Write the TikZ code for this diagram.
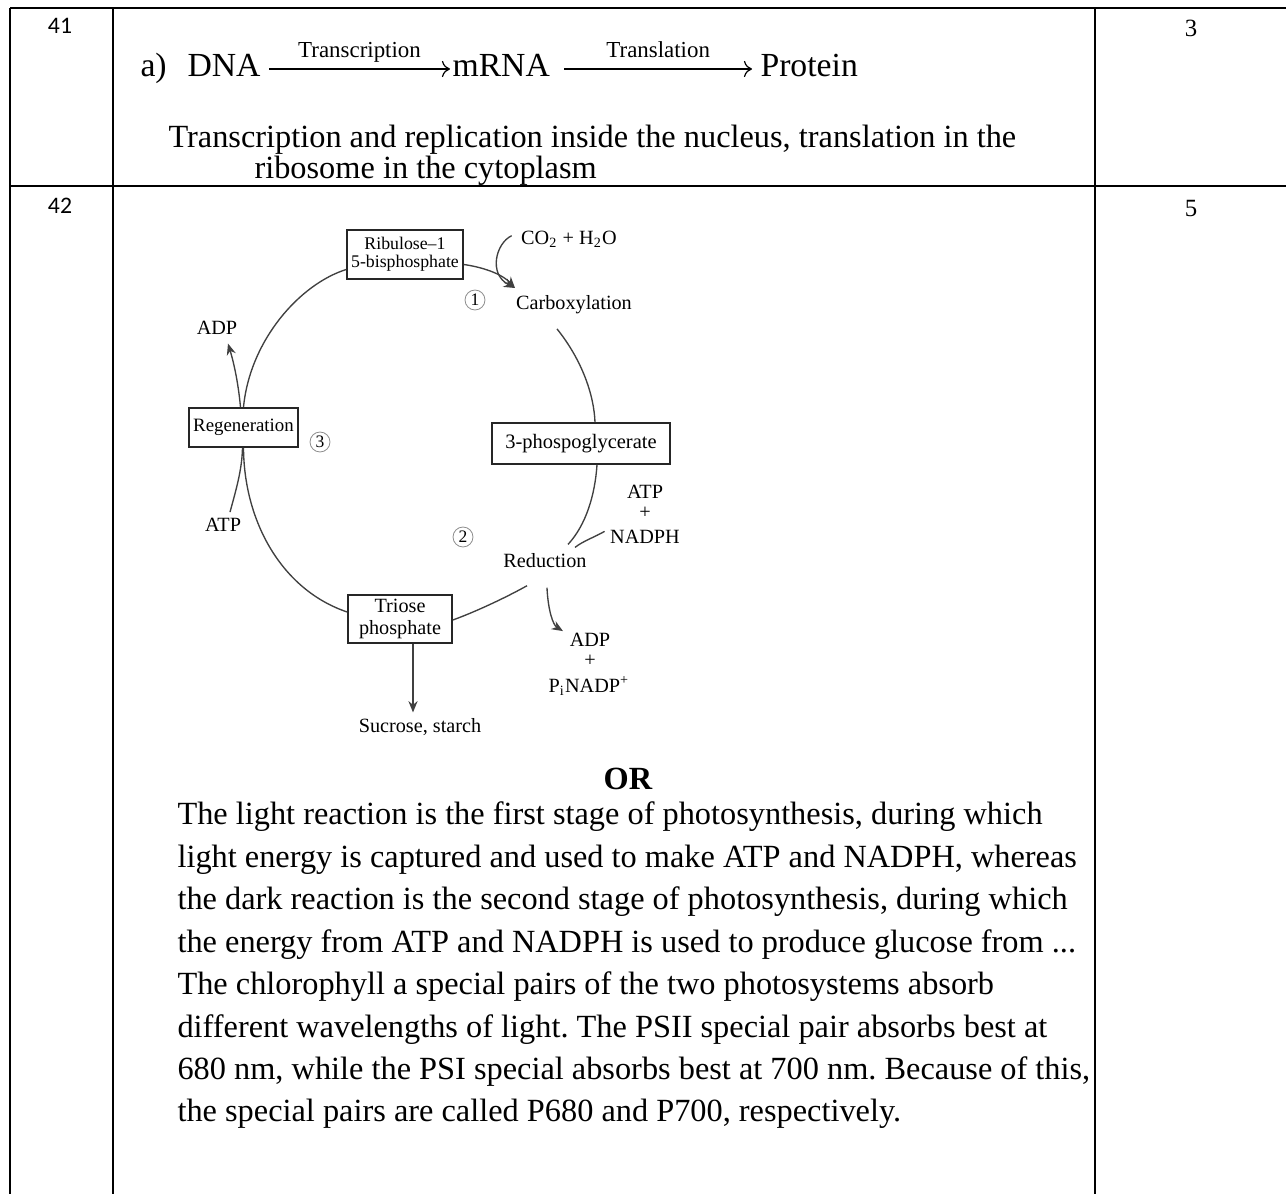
\documentclass[tikz,border=0pt]{standalone}
\usepackage{fontspec}
\setmainfont{Liberation Serif}
\newfontfamily\califont{Carlito}
\usetikzlibrary{arrows.meta,calc}
\frenchspacing
\begin{document}
\begin{tikzpicture}[x=0.371pt,y=-0.371pt,
  body/.style={anchor=base west,inner sep=0,font=\fontsize{12}{14}\selectfont},
  eqt/.style={anchor=base west,inner sep=0,font=\fontsize{12.5}{14}\selectfont},
  eqlab/.style={anchor=base,inner sep=0,font=\fontsize{8.5}{10}\selectfont},
  eqarrow/.style={line width=0.45pt,-{To[length=3pt,width=6pt]}},
  lab/.style={anchor=base,inner sep=0,font=\fontsize{7.5}{8.5}\selectfont},
  cyc/.style={draw=black!75,line width=0.5pt},
  box/.style={draw=black!85,line width=0.6pt,inner sep=0,align=center},
  tip/.style={-{Stealth[length=4.2pt,width=3.4pt]}},
  num/.style={circle,draw=black!45,line width=0.3pt,minimum size=7.4pt,inner sep=0,font=\fontsize{6.5}{7}\selectfont},
  qno/.style={anchor=base,inner sep=0,font=\califont\fontsize{8.8}{10}\selectfont},
  marksno/.style={anchor=base,inner sep=0,font=\fontsize{9.2}{10}\selectfont}
]
\useasboundingbox[fill=white] (0,0) rectangle (1286,1194);

% table
\draw[line width=0.75pt] (10,8) -- (1286,8);
\draw[line width=0.75pt] (10,186) -- (1286,186);
\foreach \x in {10,113,1095}{
  \draw[line width=0.4pt] (\x,8) -- (\x,186);
  \draw[line width=0.8pt] (\x,186) -- (\x,1194);
}

% numbers and marks
\node[qno] (q41) at (60,34) {41};
\node[qno] (q42) at (60,214) {42};
\node[marksno] (m3) at (1191,37) {3};
\node[marksno] (m5) at (1191,217) {5};

% question 41
\node[eqt] (a) at (140,77) {a)};
\node[eqt] (dna) at (187,77) {DNA};
\node[eqt] (mrna) at (452,77) {mRNA};
\node[eqt] (prot) at (760,77) {Protein};
\draw[eqarrow] ($(dna.base east)+(8,-8)$) -- node[eqlab,yshift=4.3pt] (ltr) {Transcription} ($(mrna.base west)+(-2,-8)$);
\draw[eqarrow] ($(mrna.base east)+(14,-8)$) -- node[eqlab,yshift=4.3pt] (ltl) {Translation} ($(prot.base west)+(-8,-8)$);
\node[body] (l2) at (168,148) {Transcription and replication inside the nucleus, translation in the};
\node[body] (l3) at (254,179) {ribosome in the cytoplasm};

% Calvin cycle
\node[box,minimum width=43pt,minimum height=18.2pt,font=\fontsize{6.6}{6.7}\selectfont] (rub) at (405,254.5) {Ribulose--1\\5-bisphosphate};
\node[lab] (co2) at (569,245) {CO\textsubscript{2} + H\textsubscript{2}O};
\node[num] (c1) at (475,300) {1};
\node[lab] (carb) at (574,310) {Carboxylation};
\node[box,minimum width=66pt,minimum height=15.2pt,font=\fontsize{7.6}{8}\selectfont] (pga) at (581,443.5) {3-phospoglycerate};
\node[lab] (atp1) at (645,499) {ATP};
\node[lab] (pl1) at (645,519) {+};
\node[lab] (nadph) at (645,544) {NADPH};
\node[num] (c2) at (463,537) {2};
\node[lab] (red) at (545,568) {Reduction};
\node[lab] (adp2) at (590,647) {ADP};
\node[lab] (pl2) at (590,667) {+};
\node[lab] (pinadp) at (589,693) {P\textsubscript{i}NADP\textsuperscript{+}};
\node[box,minimum width=38.6pt,minimum height=17.8pt,font=\fontsize{7.5}{8.4}\selectfont] (tri) at (400,619) {Triose\\phosphate};
\node[lab] (suc) at (420,733) {Sucrose, starch};
\node[lab] (atp2) at (223,532) {ATP};
\node[box,minimum width=40.4pt,minimum height=14.5pt,font=\fontsize{7}{8}\selectfont] (reg) at (243.5,427.5) {Regeneration};
\node[num] (c3) at (320,442) {3};
\node[lab] (adp1) at (217,335) {ADP};

\coordinate (cj) at (515,288);
\draw[cyc,tip] ($(rub.east)+(0,10)$) .. controls (488,268) and (504,276) .. (cj);
\draw[cyc,tip] ($(co2.west)+(-9,-4)$) .. controls (496,243) and (488,274) .. (cj);
\draw[cyc] ($(carb.south)+(-17,14)$) .. controls (582,360) and (594,395) .. ($(pga.north)+(14,0)$);
\draw[cyc] ($(pga.south)+(16,0)$) .. controls (595,495) and (586,525) .. ($(red.north)+(23,-9)$);
\draw[cyc] ($(nadph.west)+(-5,-6)$) .. controls (595,537) and (583,541) .. ($(red.north)+(30,-6)$);
\draw[cyc] ($(red.south)+(-18,17)$) .. controls (505,598) and (475,612) .. ($(tri.east)+(0,1)$);
\draw[cyc,tip] ($(red.south)+(2,19)$) .. controls (548,610) and (553,625) .. ($(adp2.north)+(-27,-2)$);
\draw[cyc,tip] ($(tri.south)+(13,0)$) -- ($(suc.north)+(-7,-6)$);
\draw[cyc] ($(tri.west)+(0,-7)$) .. controls (282,590) and (244,522) .. (reg.south);
\draw[cyc] ($(atp2.north)+(7,-6)$) .. controls (236,490) and (242,470) .. ($(reg.south)+(-1,0)$);
\draw[cyc] (reg.north) .. controls (250,340) and (300,284) .. ($(rub.west)+(0,15)$);
\draw[cyc,tip] ($(reg.north)+(-3,0)$) .. controls (238,380) and (233,360) .. ($(adp1.south)+(11,8)$);

% question 42 text
\node[anchor=base,inner sep=0,font=\bfseries\fontsize{12}{14}\selectfont] (or) at (628,790) {OR};
\node[body] (b1) at (177,825) {The light reaction is the first stage of photosynthesis, during which};
\node[body] (b2) at (177,867.4) {light energy is captured and used to make ATP and NADPH, whereas};
\node[body] (b3) at (177,909.8) {the dark reaction is the second stage of photosynthesis, during which};
\node[body] (b4) at (177,952.2) {the energy from ATP and NADPH is used to produce glucose from ...};
\node[body] (b5) at (177,994.6) {The chlorophyll a special pairs of the two photosystems absorb};
\node[body] (b6) at (177,1037) {different wavelengths of light. The PSII special pair absorbs best at};
\node[body] (b7) at (177,1079.4) {680 nm, while the PSI special absorbs best at 700 nm. Because of this,};
\node[body] (b8) at (177,1121.8) {the special pairs are called P680 and P700, respectively.};
\end{tikzpicture}
\end{document}
